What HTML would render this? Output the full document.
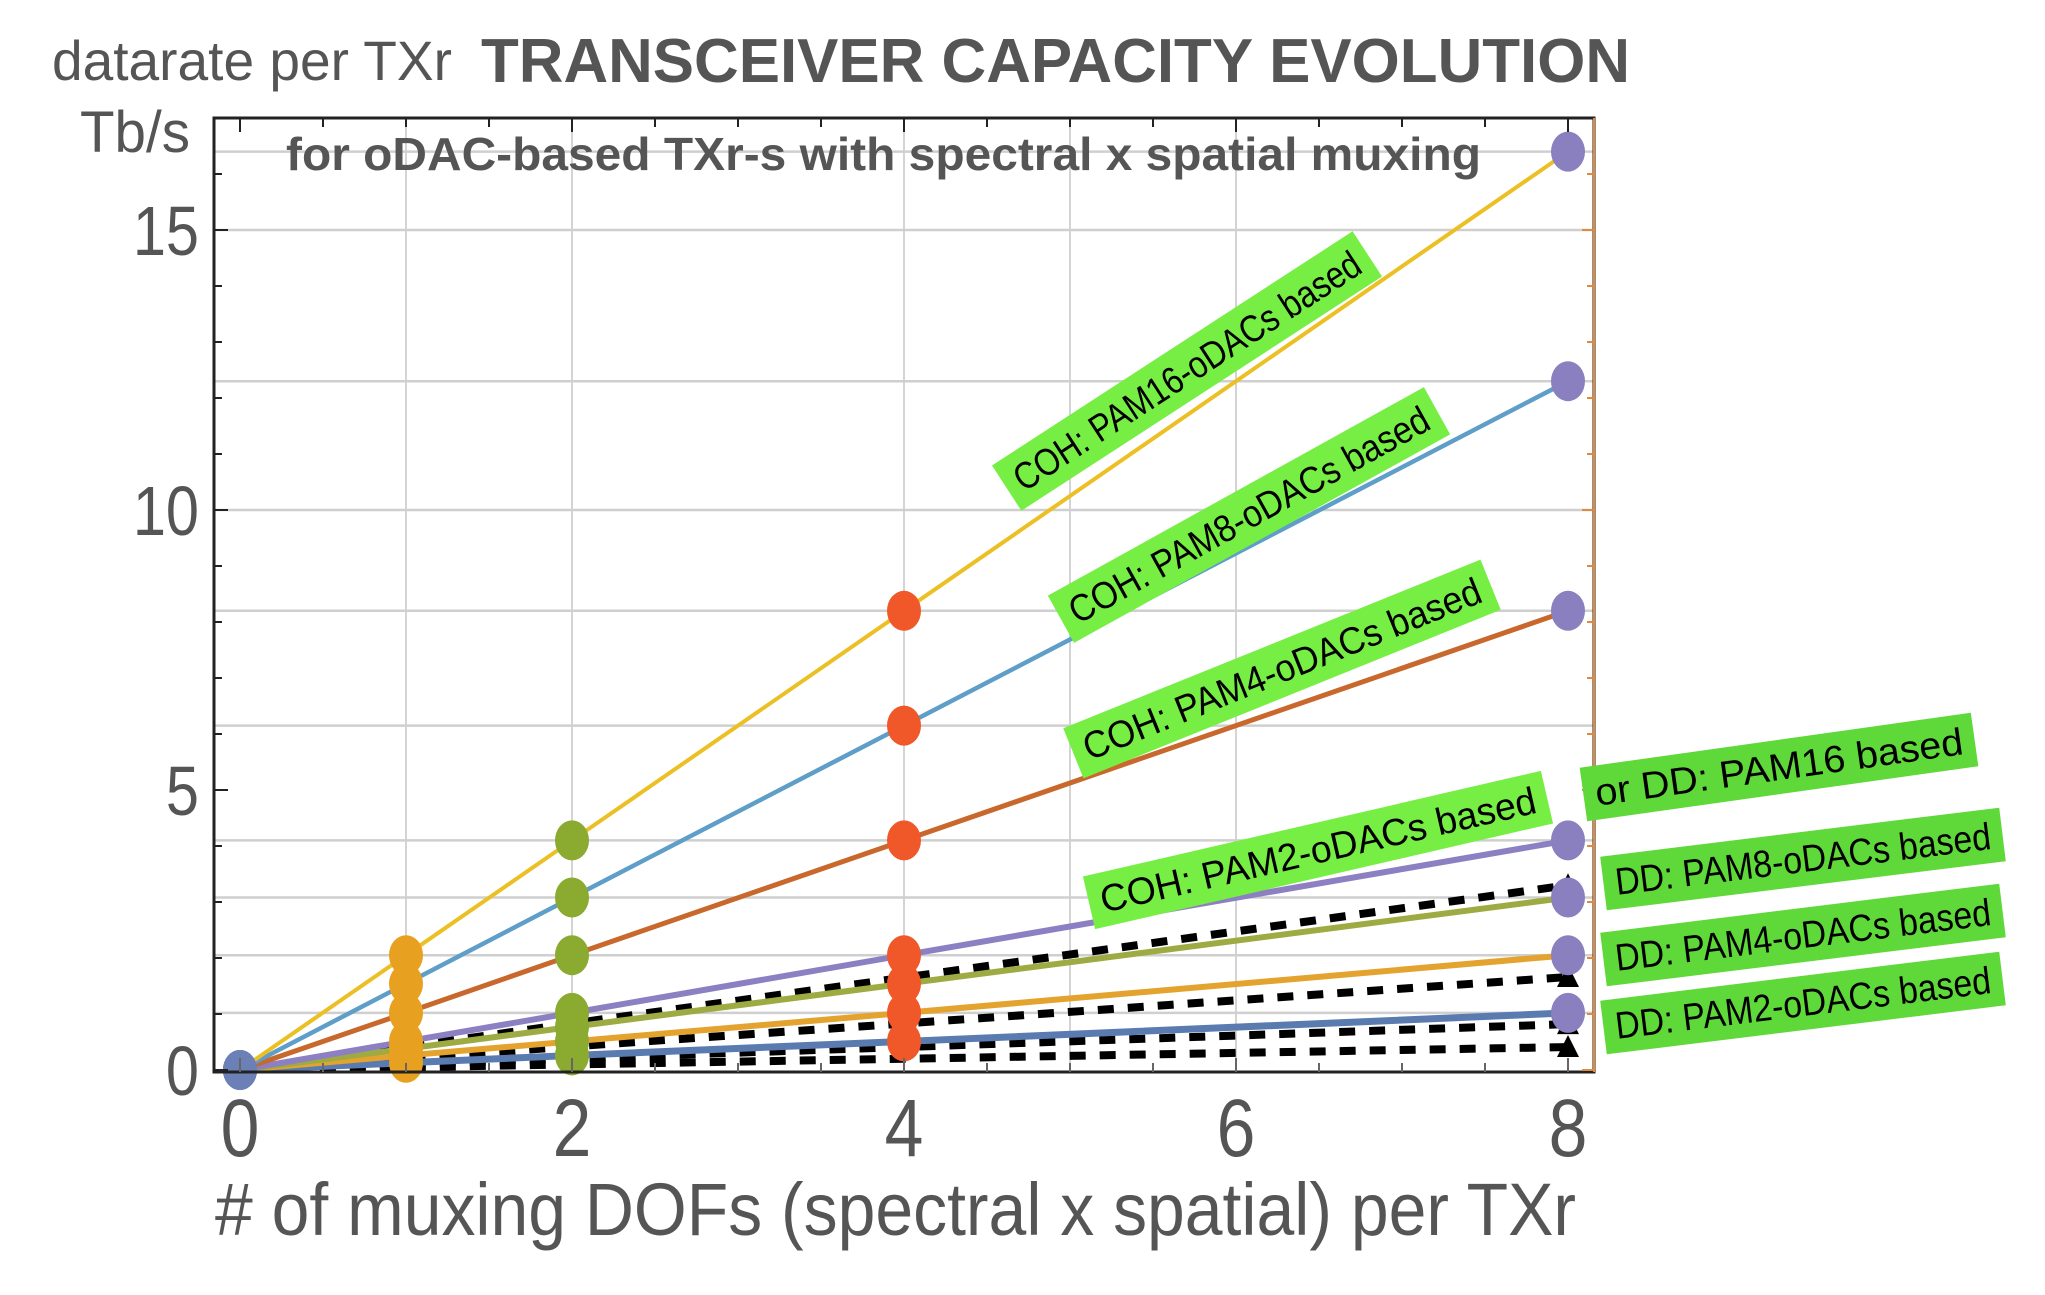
<!DOCTYPE html>
<html><head><meta charset="utf-8"><style>
html,body{margin:0;padding:0;background:#fff;}
svg{display:block;font-family:"Liberation Sans",sans-serif;}
</style></head><body>
<svg id="chart" width="2045" height="1295" viewBox="0 0 2045 1295">
<text x="52" y="80" font-size="56" fill="#555" textLength="400" lengthAdjust="spacingAndGlyphs">datarate per TXr</text>
<text x="481" y="82" font-size="62" font-weight="bold" fill="#555" textLength="1149" lengthAdjust="spacingAndGlyphs">TRANSCEIVER CAPACITY EVOLUTION</text>
<text x="80" y="152" font-size="58" fill="#555" textLength="110" lengthAdjust="spacingAndGlyphs">Tb/s</text>
<g id="grid"></g>
<g id="series"></g>
<rect x="214" y="118" width="1380" height="954" fill="none" stroke="#222" stroke-width="3"/>
<line x1="1594" y1="118" x2="1594" y2="1072" stroke="#e08a40" stroke-width="2"/>
<g id="ticks"></g>
<text x="286" y="170" font-size="46" font-weight="bold" fill="#555" textLength="1195" lengthAdjust="spacingAndGlyphs">for oDAC-based TXr-s with spectral x spatial muxing</text>
<g id="labels"></g>
<text x="215" y="1235" font-size="74" fill="#555" textLength="1361" lengthAdjust="spacingAndGlyphs"># of muxing DOFs (spectral x spatial) per TXr</text>
</svg>
<script>
const xs = [0, 1, 2, 4, 8];
const cohPam16 = [0, 2.05, 4.1, 8.2, 16.4];
const cohPam8 = [0, 1.54, 3.08, 6.15, 12.3];
const cohPam4 = [0, 1.02, 2.05, 4.1, 8.2];
const cohPam2 = [0, 0.51, 1.02, 2.05, 4.1];
const ddPam8 = [0, 0.38, 0.77, 1.54, 3.08];
const ddPam4 = [0, 0.26, 0.51, 1.02, 2.05];
const ddPam2 = [0, 0.13, 0.26, 0.51, 1.02];
const dashA = [0, 0.41, 0.83, 1.65, 3.3];
const dashB = [0, 0.21, 0.42, 0.83, 1.66];
const dashC = [0, 0.1, 0.21, 0.41, 0.82];
const dashD = [0, 0.05, 0.1, 0.2, 0.41];
const xTicks = [0, 2, 4, 6, 8];
const yTicks = [0, 5, 10, 15];
const xGrid = [1, 2, 4, 5, 6];
const yGrid = [16.4, 15, 12.3, 10, 8.2, 6.15, 4.1, 3.08, 2.05, 1.02];
const labelTexts = ["COH: PAM16-oDACs based","COH: PAM8-oDACs based","COH: PAM4-oDACs based","COH: PAM2-oDACs based","or DD: PAM16 based","DD: PAM8-oDACs based","DD: PAM4-oDACs based","DD: PAM2-oDACs based"];

const NS = "http://www.w3.org/2000/svg";
const X = v => 240 + v * 166;
const Y = v => 1070 - v * 56;
function mk(tag, attrs, parent){const e=document.createElementNS(NS,tag);for(const k in attrs)e.setAttribute(k,attrs[k]);parent.appendChild(e);return e;}
const grid=document.getElementById('grid'), ser=document.getElementById('series'), tk=document.getElementById('ticks'), lab=document.getElementById('labels');

xGrid.forEach(v=>{const l=mk('line',{x1:X(v),x2:X(v),y1:118,y2:1072,stroke:'#d4d4d4','stroke-width':2},grid);

});
yGrid.forEach(v=>{const l=mk('line',{x1:214,x2:1594,y1:Y(v),y2:Y(v),stroke:'#cfcfcf','stroke-width':2.5},grid);

});

for(let i=0;i<=16;i++){const v=i*0.5;
 const a=mk('line',{x1:X(v),x2:X(v),y1:118,y2:118+(i%4==0?14:9),stroke:'#222','stroke-width':2},tk);
 
 
 const b=mk('line',{x1:X(v),x2:X(v),y1:1072,y2:1072-(i%4==0?14:9),stroke:'#666','stroke-width':2},tk);
 
 }
for(let i=0;i<=16;i++){
 const a=mk('line',{x1:214,x2:214+(i%5==0?14:8),y1:Y(i),y2:Y(i),stroke:'#222','stroke-width':2},tk);
 
 
 const b=mk('line',{x1:1594,x2:1594-(i%5==0?12:7),y1:Y(i),y2:Y(i),stroke:'#e08a40','stroke-width':2},tk);
 
 }
xTicks.forEach(v=>{const t=mk('text',{x:0,y:0,'font-size':82,fill:'#555','text-anchor':'middle',transform:`translate(${X(v)},1156) scale(0.85,1)`},tk);t.textContent=v;
 
 });
yTicks.forEach(v=>{const t=mk('text',{x:0,y:0,'font-size':70,fill:'#555','text-anchor':'end',transform:`translate(199,${Y(v)+25}) scale(0.85,1)`},tk);t.textContent=v;
 
 });

function path(vals,x0){let d='';xs.forEach((x,i)=>{d+=(i?'L':'M')+X(i==0?x0:x)+','+Y(i==0?vals[1]*x0:vals[i]);});return d;}
const dashed=[dashD,dashC,dashB,dashA];
dashed.forEach(s=>{const p=mk('path',{d:path(s,0.3),fill:'none',stroke:'#000','stroke-width':8,'stroke-dasharray':'16 14'},ser);
 
 
 const tx=X(8),ty=Y(s[4]);
 const tr=mk('path',{d:`M${tx-11},${ty+10}L${tx+11},${ty+10}L${tx},${ty-12}Z`,fill:'#000'},ser);
 
 });
const solid=[[ddPam2,'#5a7bb0',7],[ddPam4,'#e4a32e',6],[ddPam8,'#9dab42',6],[cohPam2,'#8c80c2',6],[cohPam4,'#c8682c',5],[cohPam8,'#5e9ec8',4.5],[cohPam16,'#ecc024',4]];
solid.forEach(([s,c,w])=>{const p=mk('path',{d:path(s,0),fill:'none',stroke:c,'stroke-width':w},ser);
 
 });
const mcol=['#6c80b8','#e8a020','#8aaa30','#f0582a','#8a80c0'];
[ddPam2,ddPam4,ddPam8,cohPam2,cohPam4,cohPam8,cohPam16].forEach(s=>{xs.forEach((x,i)=>{
 const e=mk('ellipse',{cx:X(x),cy:Y(s[i]),rx:17,ry:20,fill:mcol[i]},ser);
 
 });});

const lp=[[1187,371,-33,430],[1249,515,-29,430],[1282,669,-22,450],[1318,850,-13,470],[1779,767,-8,395],[1803,859,-7,402],[1803,935,-7,402],[1803,1003,-7,402]];
labelTexts.forEach((t,i)=>{const [cx,cy,a,w]=lp[i];
 const g=mk('g',{transform:`translate(${cx},${cy}) rotate(${a})`},lab);
 
 
 mk('rect',{x:-w/2,y:-27,width:w,height:54,fill:i<4?'#77ee44':'#5fd83a'},g);
 const tx=mk('text',{x:0,y:13,'font-size':38,fill:'#000','text-anchor':'middle',textLength:w-24,lengthAdjust:'spacingAndGlyphs'},g);
 tx.textContent=t;});
</script>
</body></html>
